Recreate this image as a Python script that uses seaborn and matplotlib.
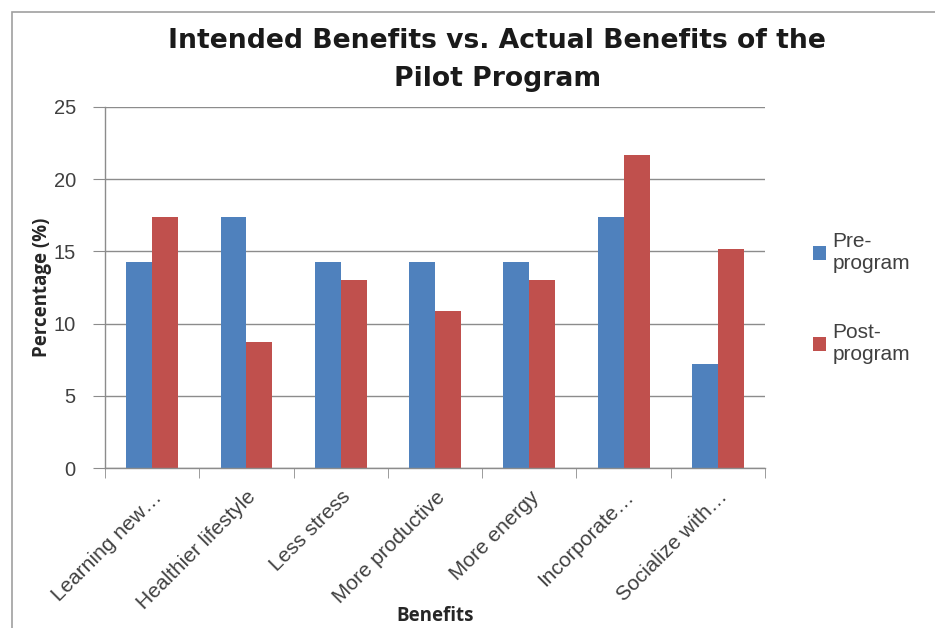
import matplotlib
matplotlib.use("Agg")
import matplotlib.pyplot as plt
import matplotlib.patches as mpatches
import seaborn as sns
import pandas as pd

categories = ["Learning new…", "Healthier lifestyle", "Less stress", "More productive",
              "More energy", "Incorporate…", "Socialize with…"]
pre_program = [14.3, 17.4, 14.3, 14.3, 14.3, 17.4, 7.2]
post_program = [17.4, 8.7, 13.0, 10.9, 13.0, 21.7, 15.2]
series_names = ["Pre-\nprogram", "Post-\nprogram"]
yticks = [0, 5, 10, 15, 20, 25]

df = pd.DataFrame({
    "Benefit": categories * 2,
    "Value": pre_program + post_program,
    "Series": [series_names[0]] * len(categories) + [series_names[1]] * len(categories),
})

sns.set_style("white")
plt.rcParams["font.family"] = ["Liberation Sans", "DejaVu Sans"]

fig = plt.figure(figsize=(9.35, 6.28), dpi=100)
ax = fig.add_axes([105/935, 1-468/628, 660/935, (468-107)/628])

sns.barplot(data=df, x="Benefit", y="Value", hue="Series",
            palette=["#4F81BD", "#C0504D"], width=0.55, saturation=1,
            ax=ax, legend=True, edgecolor="none")

ax.set_ylim(0, 25)
ax.set_yticks(yticks)
ax.set_xlim(-0.5, len(categories) - 0.5)
ax.yaxis.grid(True, color="#8c8c8c", linewidth=1)
ax.set_axisbelow(True)
for s in ["top", "right"]:
    ax.spines[s].set_visible(False)
for s in ["left", "bottom"]:
    ax.spines[s].set_color("#8c8c8c")
    ax.spines[s].set_linewidth(1)

ax.tick_params(axis="y", which="both", left=True, length=9, color="#8c8c8c",
               labelsize=14.5, labelcolor="#404040", pad=12)
ax.set_xticks(range(len(categories)))
ax.set_xticklabels(categories, rotation=45, ha="right", rotation_mode="anchor",
                   fontsize=15, color="#404040")
ax.tick_params(axis="x", which="major", length=0, pad=14)
ax.set_xticks([i - 0.5 for i in range(len(categories) + 1)], minor=True)
ax.tick_params(axis="x", which="minor", bottom=True, length=7, color="#8c8c8c")

ax.set_ylabel("Percentage (%)", fontsize=13.5, fontweight="bold",
              family=["Open Sans", "DejaVu Sans"], labelpad=1)
ax.set_xlabel("Benefits", fontsize=13.5, fontweight="bold",
              family=["Open Sans", "DejaVu Sans"], labelpad=-5)

leg = ax.legend(loc="center left", bbox_to_anchor=(1.045, 0.47), frameon=False,
                fontsize=15, handlelength=0.6, handleheight=0.6,
                handletextpad=0.3, labelspacing=2.4)
for t in leg.get_texts():
    t.set_color("#404040")

fig.text(0.532, 1 - 60/628, "Intended Benefits vs. Actual Benefits of the\nPilot Program",
         ha="center", va="center", fontsize=19.2, fontweight="bold",
         linespacing=1.65, color="#1a1a1a",
         family=["DejaVu Sans", "Liberation Sans"])

border = mpatches.Rectangle((12/935, -0.1), 1.2, 1 - 12/628 + 0.1,
                            transform=fig.transFigure, fill=False,
                            edgecolor="#a0a0a0", linewidth=1.2)
fig.patches.append(border)

fig.savefig("out.png", dpi=100)
